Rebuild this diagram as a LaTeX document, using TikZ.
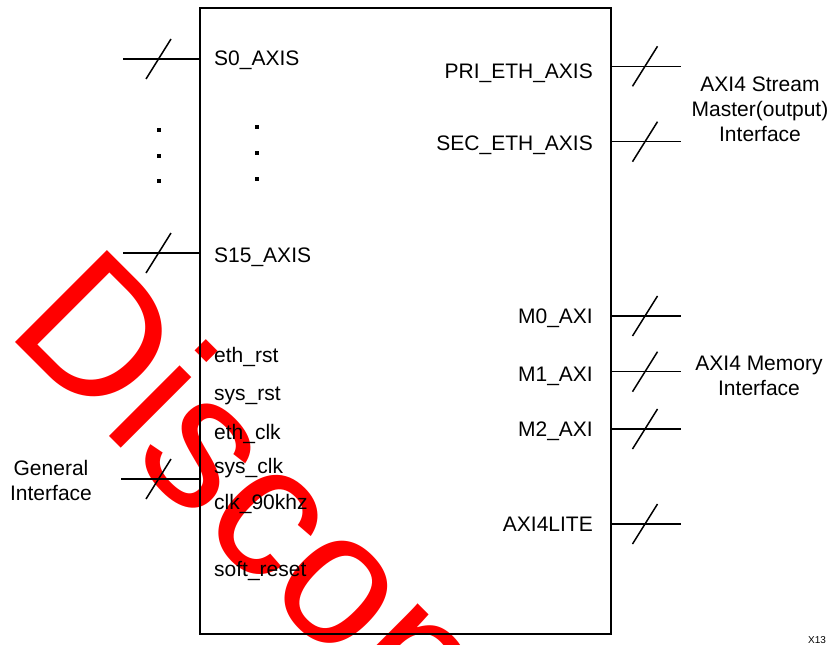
\documentclass[tikz,border=0pt]{standalone}
\usepackage{fontspec}
\setmainfont{Liberation Sans}
\usetikzlibrary{calc}
\tikzset{
  wire/.style={line width=1.5pt},
  lbl/.style={inner sep=0pt, font=\fontsize{21}{25}\selectfont},
  grp/.style={inner sep=0pt, align=center, font=\fontsize{21}{25}\selectfont},
  wmark/.style={inner sep=0pt, text=red, font=\fontsize{189}{189}\selectfont, rotate=-45, anchor=base west},
  dotmark/.style={fill=black},
}
\newcommand\busmark[1]{\draw[wire] ([shift={(-12.5,20)}]#1) -- ([shift={(12.5,-20)}]#1);}
\newcommand\dotsq[1]{\fill[dotmark] ([shift={(-1.6,-1.6)}]#1) rectangle ([shift={(1.6,1.6)}]#1);}
\begin{document}
\begin{tikzpicture}[x=1pt,y=-1pt]
\useasboundingbox (0,0) rectangle (830,645);
% watermark
\begin{scope}
\clip (0,0) rectangle (830,645);
\node[wmark] (wm) at (4,331) {Discontinued};
\end{scope}
% core box
\node[draw, line width=1.6pt, minimum width=411pt, minimum height=626pt, anchor=north west, inner sep=0pt] (core) at (199,7) {};
% left wires
\coordinate (s0in) at (123,59);
\coordinate (s15in) at (123,253);
\coordinate (genin) at (121,479);
\draw[wire] (s0in) -- (s0in -| core.west);
\draw[wire] (s15in) -- (s15in -| core.west);
\draw[wire] (genin) -- (genin -| core.west);
\coordinate (s0m) at (158.5,59);
\coordinate (s15m) at (158.5,253);
\coordinate (genm) at (158.5,479);
\busmark{s0m}
\busmark{s15m}
\busmark{genm}
% right wires
\coordinate (prio) at (681,66.3);
\coordinate (seco) at (681,141.7);
\coordinate (m0o) at (681,316);
\coordinate (m1o) at (681,371.7);
\coordinate (m2o) at (681,429);
\coordinate (liteo) at (681,524);
\foreach \c in {prio,seco,m0o,m1o,m2o,liteo}{
  \draw[wire] (\c -| core.east) -- (\c);
}
\coordinate (prim) at (645,66.3);
\coordinate (secm) at (645,141.7);
\coordinate (m0m) at (645,316);
\coordinate (m1m) at (645,371.7);
\coordinate (m2m) at (645,429);
\coordinate (litem) at (645,524);
\busmark{prim}
\busmark{secm}
\busmark{m0m}
\busmark{m1m}
\busmark{m2m}
\busmark{litem}
% dots
\coordinate (da1) at (159,130);
\coordinate (da2) at (159,156);
\coordinate (da3) at (159,181);
\coordinate (db1) at (257,127);
\coordinate (db2) at (257,153);
\coordinate (db3) at (257,179);
\dotsq{da1}\dotsq{da2}\dotsq{da3}
\dotsq{db1}\dotsq{db2}\dotsq{db3}
% left labels
\node[lbl, anchor=base west] (ls0) at (214,65.5) {S0\_AXIS};
\node[lbl, anchor=base west] (ls15) at (214,262) {S15\_AXIS};
\node[lbl, anchor=base west] (lethrst) at (214,362.7) {eth\_rst};
\node[lbl, anchor=base west] (lsysrst) at (214,400) {sys\_rst};
\node[lbl, anchor=base west] (lethclk) at (214,439) {eth\_clk};
\node[lbl, anchor=base west] (lsysclk) at (214,473) {sys\_clk};
\node[lbl, anchor=base west] (lclk90) at (214,509) {clk\_90khz};
\node[lbl, anchor=base west] (lsoft) at (214,576) {soft\_reset};
% right labels
\node[lbl, anchor=base east] (lpri) at (593,78.7) {PRI\_ETH\_AXIS};
\node[lbl, anchor=base east] (lsec) at (593,150) {SEC\_ETH\_AXIS};
\node[lbl, anchor=base east] (lm0) at (593,323.3) {M0\_AXI};
\node[lbl, anchor=base east] (lm1) at (593,381) {M1\_AXI};
\node[lbl, anchor=base east] (lm2) at (593,436.7) {M2\_AXI};
\node[lbl, anchor=base east] (llite) at (593,531) {AXI4LITE};
% group labels
\node[grp] (gstream) at (760,109) {AXI4 Stream\\Master(output)\\Interface};
\node[grp] (gmem) at (759,376) {AXI4 Memory\\Interface};
\node[grp] (ggen) at (51,480) {General\\Interface};
% figure id
\node[inner sep=0pt, anchor=base west, font=\fontsize{10}{12}\selectfont] (figid) at (808,643) {X13};
\end{tikzpicture}
\end{document}
